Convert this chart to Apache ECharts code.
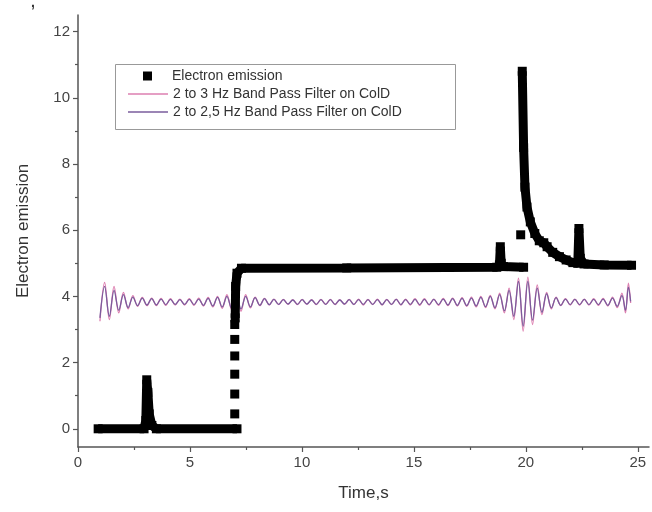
<!DOCTYPE html>
<html>
<head>
<meta charset="utf-8">
<script src="https://cdn.jsdelivr.net/npm/echarts@6/dist/echarts.min.js"></script>
<style>
  html, body { margin: 0; padding: 0; background: #fff; }
  #chart { width: 652px; height: 512px; }
</style>
</head>
<body>
<div id="chart"></div>
<script>
// Electron emission trace: [time (s), value]; '-' breaks the trace so isolated squares stand alone
var emissionData = [
  [0.9, 0], [2.95, 0], [3.03, 0.25], [3.07, 1.48], [3.12, 1.1], [3.18, 0.45], [3.3, 0.1], [3.5, 0], [7.1, 0],
  [7.0, '-'],
  [7.0, 0.45], [7.0, '-'], [7.0, 1.05], [7.0, '-'], [7.0, 1.65], [7.0, '-'],
  [7.0, 2.2], [7.0, '-'], [7.0, 2.7], [7.0, '-'], [7.0, 3.15], [7.0, '-'],
  [7.02, 3.35], [7.04, 4.3], [7.1, 4.7], [7.3, 4.85], [12.0, 4.86], [18.7, 4.88],
  [18.82, 4.95], [18.86, 5.5], [18.9, 5.0], [19.0, 4.9], [19.9, 4.88],
  [19.9, '-'],
  [19.77, 5.86],
  [19.8, '-'],
  [19.84, 10.8], [19.9, 8.5], [19.96, 7.3], [20.05, 6.7], [20.2, 6.25], [20.4, 5.9],
  [20.6, 5.68], [20.8, 5.62], [20.95, 5.5], [21.2, 5.33], [21.5, 5.2], [21.8, 5.1],
  [22.1, 5.02], [22.32, 5.0], [22.37, 6.05], [22.43, 5.15], [22.6, 4.98], [23.5, 4.95], [24.72, 4.94]
];

// Sample times shared by both band-pass filtered traces
var filterTime = [0.98,1.19,1.40,1.61,1.82,2.03,2.24,2.45,2.66,2.87,3.08,3.29,3.50,3.71,3.92,4.13,4.34,4.55,4.76,4.97,
  5.18,5.39,5.60,5.81,6.02,6.23,6.44,6.65,6.86,7.07,7.28,7.49,7.70,7.91,8.12,8.33,8.54,8.75,8.96,9.17,
  9.38,9.59,9.80,10.01,10.22,10.43,10.64,10.85,11.06,11.27,11.48,11.69,11.90,12.11,12.32,12.53,12.74,12.95,13.16,13.37,
  13.58,13.79,14.00,14.21,14.42,14.63,14.84,15.05,15.26,15.47,15.68,15.89,16.10,16.31,16.52,16.73,16.94,17.15,17.36,17.57,
  17.78,17.99,18.20,18.41,18.62,18.83,19.04,19.25,19.46,19.67,19.88,20.09,20.30,20.51,20.72,20.93,21.14,21.35,21.56,21.77,
  21.98,22.19,22.40,22.61,22.82,23.03,23.24,23.45,23.66,23.87,24.08,24.29,24.45,24.58,24.68];

// 2 to 3 Hz band pass filter on ColD
var band3Values = [3.25,4.42,3.30,4.30,3.50,4.12,3.62,4.02,3.70,3.97,
  3.72,3.95,3.72,3.94,3.73,3.93,3.74,3.92,3.74,3.93,
  3.73,3.95,3.71,3.97,3.68,4.00,3.64,4.05,3.60,4.10,
  3.55,4.05,3.65,3.98,3.72,3.94,3.74,3.92,3.75,3.91,
  3.76,3.90,3.75,3.91,3.76,3.90,3.75,3.91,3.76,3.91,
  3.75,3.90,3.76,3.91,3.75,3.92,3.74,3.91,3.75,3.92,
  3.74,3.91,3.75,3.92,3.74,3.92,3.74,3.93,3.73,3.93,
  3.74,3.92,3.73,3.94,3.72,3.95,3.71,3.96,3.70,3.98,
  3.68,4.00,3.66,4.03,3.62,4.10,3.50,4.25,3.30,4.55,
  2.95,4.58,3.15,4.35,3.45,4.12,3.62,3.98,3.72,3.93,
  3.74,3.92,3.74,3.92,3.74,3.93,3.73,3.94,3.71,3.98,
  3.66,4.10,3.50,4.40,3.80];

// 2 to 2,5 Hz band pass filter on ColD
var band25Values = [3.35,4.30,3.40,4.18,3.58,4.05,3.66,3.98,3.72,3.95,
  3.74,3.93,3.74,3.92,3.75,3.91,3.76,3.90,3.76,3.91,
  3.75,3.92,3.73,3.94,3.71,3.97,3.68,4.00,3.64,4.05,
  3.62,4.00,3.68,3.96,3.73,3.93,3.75,3.91,3.76,3.90,
  3.77,3.89,3.76,3.90,3.77,3.89,3.76,3.90,3.76,3.90,
  3.76,3.89,3.77,3.90,3.76,3.90,3.76,3.90,3.76,3.90,
  3.75,3.90,3.76,3.91,3.75,3.90,3.76,3.91,3.75,3.91,
  3.75,3.91,3.75,3.92,3.74,3.93,3.73,3.94,3.72,3.95,
  3.71,3.97,3.69,4.00,3.66,4.05,3.56,4.18,3.40,4.45,
  3.10,4.45,3.28,4.25,3.52,4.08,3.65,3.96,3.73,3.92,
  3.75,3.91,3.75,3.91,3.75,3.91,3.75,3.92,3.73,3.95,
  3.70,4.02,3.58,4.28,3.85];

var yMajorTicks = [0, 2, 4, 6, 8, 10, 12];
var yMinorTicks = [1, 3, 5, 7, 9, 11];
var xMajorTicks = [0, 5, 10, 15, 20, 25];
var xMinorTicks = [2.5, 7.5, 12.5, 17.5, 22.5];

var seriesNames = ['Electron emission', '2 to 3 Hz Band Pass Filter on ColD', '2 to 2,5 Hz Band Pass Filter on ColD'];

function pairs(xs, ys) {
  return xs.map(function (x, i) { return [x, ys[i]]; });
}

var FONT = '"Liberation Sans", Arial, sans-serif';
var axisColor = '#555';

var chart = echarts.init(document.getElementById('chart'), null, { renderer: 'canvas' });

function axisCommon() {
  return {
    type: 'value',
    splitLine: { show: false },
    axisLine: { show: true, onZero: false, lineStyle: { color: axisColor, width: 1.5 } },
    axisTick: { show: true, inside: false, length: 5, lineStyle: { color: axisColor, width: 1.2 } },
    axisLabel: { color: '#444', fontSize: 15, fontFamily: FONT, margin: 8 }
  };
}

var xMain = axisCommon();
xMain.min = 0; xMain.max = 25.5;
xMain.axisTick.customValues = xMajorTicks;
xMain.axisLabel.customValues = xMajorTicks;
xMain.name = 'Time,s';
xMain.nameLocation = 'middle';
xMain.nameGap = 38;
xMain.nameTextStyle = { fontSize: 17, color: '#333', fontFamily: FONT };

var xMinor = {
  type: 'value', min: 0, max: 25.5, position: 'bottom', offset: 0,
  axisLine: { show: false, onZero: false }, splitLine: { show: false }, axisLabel: { show: false },
  axisTick: { show: true, length: 3, customValues: xMinorTicks, lineStyle: { color: axisColor, width: 1.2 } }
};

var yMain = axisCommon();
yMain.min = -0.55; yMain.max = 12.5;
yMain.axisTick.customValues = yMajorTicks;
yMain.axisLabel.customValues = yMajorTicks;
yMain.name = 'Electron emission';
yMain.nameLocation = 'middle';
yMain.nameGap = 46;
yMain.nameTextStyle = { fontSize: 17, color: '#333', fontFamily: FONT };

var yMinor = {
  type: 'value', min: -0.55, max: 12.5, position: 'left', offset: 0,
  axisLine: { show: false, onZero: false }, splitLine: { show: false }, axisLabel: { show: false },
  axisTick: { show: true, length: 3, customValues: yMinorTicks, lineStyle: { color: axisColor, width: 1.2 } }
};

var legendText = { color: '#333', fontSize: 14, fontFamily: FONT, lineHeight: 16 };

chart.setOption({
  animation: false,
  backgroundColor: '#fff',
  grid: { left: 78, right: 3, top: 15, bottom: 65, containLabel: false },
  xAxis: [xMain, xMinor],
  yAxis: [yMain, yMinor],
  legend: [
    {
      data: [{ name: seriesNames[0], icon: 'rect' }],
      orient: 'vertical', left: 143, top: 68, padding: 0,
      itemWidth: 9, itemHeight: 9,
      textStyle: Object.assign({ padding: [0, 0, 0, 15] }, legendText),
      selectedMode: false
    },
    {
      data: [{ name: seriesNames[1], icon: 'rect' }, { name: seriesNames[2], icon: 'rect' }],
      orient: 'vertical', left: 128, top: 86, padding: 0, itemGap: 2,
      itemWidth: 40, itemHeight: 1.3,
      textStyle: legendText,
      selectedMode: false
    }
  ],
  graphic: [
    {
      type: 'rect', left: 113, top: 62, z: 100,
      shape: { width: 340, height: 65 },
      style: { fill: 'none', stroke: '#999', lineWidth: 1 }
    },
    {
      type: 'text', left: 31, top: -4,
      style: { text: ',', fill: '#333', font: 'bold 14px ' + FONT }
    }
  ],
  series: [
    {
      name: seriesNames[1], type: 'line', xAxisIndex: 0, yAxisIndex: 0,
      data: pairs(filterTime, band3Values),
      showSymbol: false, symbol: 'none', smooth: 0.35,
      lineStyle: { color: '#dd7fb0', width: 1.3 },
      itemStyle: { color: '#dd7fb0' }, z: 2
    },
    {
      name: seriesNames[2], type: 'line', xAxisIndex: 0, yAxisIndex: 0,
      data: pairs(filterTime, band25Values),
      showSymbol: false, symbol: 'none', smooth: 0.35,
      lineStyle: { color: '#7a5c9c', width: 1.3 },
      itemStyle: { color: '#7a5c9c' }, z: 3
    },
    {
      name: seriesNames[0], type: 'line', xAxisIndex: 0, yAxisIndex: 0,
      data: emissionData,
      connectNulls: false,
      symbol: 'rect', symbolSize: 9, showSymbol: true, showAllSymbol: true,
      lineStyle: { color: '#000', width: 9, join: 'bevel' },
      itemStyle: { color: '#000' }, z: 5
    }
  ]
});
</script>
</body>
</html>
